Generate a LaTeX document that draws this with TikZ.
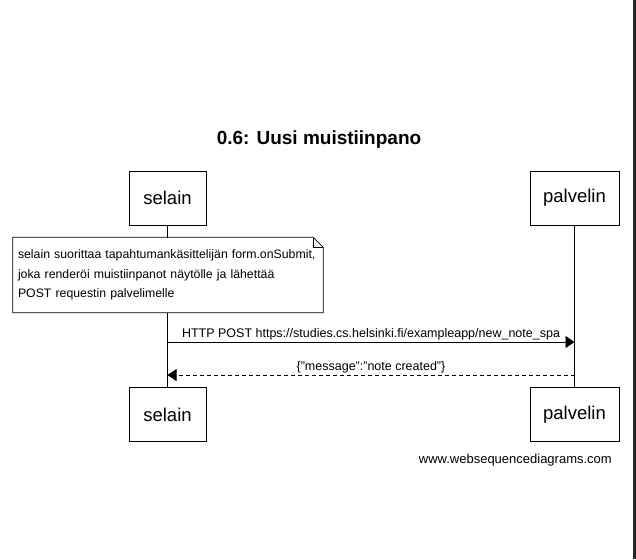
\documentclass[tikz,border=0pt]{standalone}
\usepackage{fontspec}
\setmainfont{Liberation Sans}
\usetikzlibrary{arrows.meta,calc}

\begin{document}
\begin{tikzpicture}[x=1pt, y=-1pt,
    actor/.style={draw, line width=0.8pt, minimum height=54pt, inner sep=0pt, fill=white, font=\fontsize{18.5}{20}\selectfont},
    notebox/.style={fill=white, inner sep=5pt, text width=300pt, minimum height=75pt, align=left, font=\fontsize{12.3}{19.5}\selectfont},
    msg/.style={-{Triangle[length=9pt, width=12pt]}, line width=0.8pt},
    ret/.style={msg, dash pattern=on 4pt off 3pt},
    lbl/.style={font=\fontsize{12.5}{14}\selectfont, inner sep=2pt},
    life/.style={line width=0.8pt}
]
\useasboundingbox (0,0) rectangle (636,559);
\fill[black!85] (633,0) rectangle (636,559);

\node[font=\bfseries\fontsize{19}{21}\selectfont] (title) at (319,140) {0.6: Uusi muistiinpano};

\node[actor, minimum width=77pt] (selT) at (167.5,198) {selain};
\node[actor, minimum width=89pt] (palT) at (574.5,198) {palvelin};
\node[actor, minimum width=77pt] (selB) at (167.5,414.5) {selain};
\node[actor, minimum width=89pt] (palB) at (574.5,414.5) {palvelin};

\draw[life] (selT) -- (selB);
\draw[life] (palT) -- (palB);

% note with folded corner
\node[notebox] (note) at (168,275) {selain suorittaa tapahtumankäsittelijän form.onSubmit,\\joka renderöi muistiinpanot näytölle ja lähettää\\POST requestin palvelimelle};
\draw[line width=0.8pt] (note.north west) -- ($(note.north east)+(-10,0)$) -- ($(note.north east)+(0,10)$)
    -- (note.south east) -- (note.south west) -- cycle;
\draw[line width=0.6pt] ($(note.north east)+(-10,0)$) -- ($(note.north east)+(-10,10)$) -- ($(note.north east)+(0,10)$);

\coordinate (m1) at (0,342);
\coordinate (m2) at (0,375);
\draw[msg] (selT |- m1) -- node[lbl, above] {HTTP POST https://studies.cs.helsinki.fi/exampleapp/new\_note\_spa} (palT |- m1);
\draw[ret] (palT |- m2) -- node[lbl, above] {\{"message":"note created"\}} (selT |- m2);

\node[lbl, anchor=east, font=\fontsize{13}{15}\selectfont] (wsd) at (614,460) {www.websequencediagrams.com};
\end{tikzpicture}
\end{document}
